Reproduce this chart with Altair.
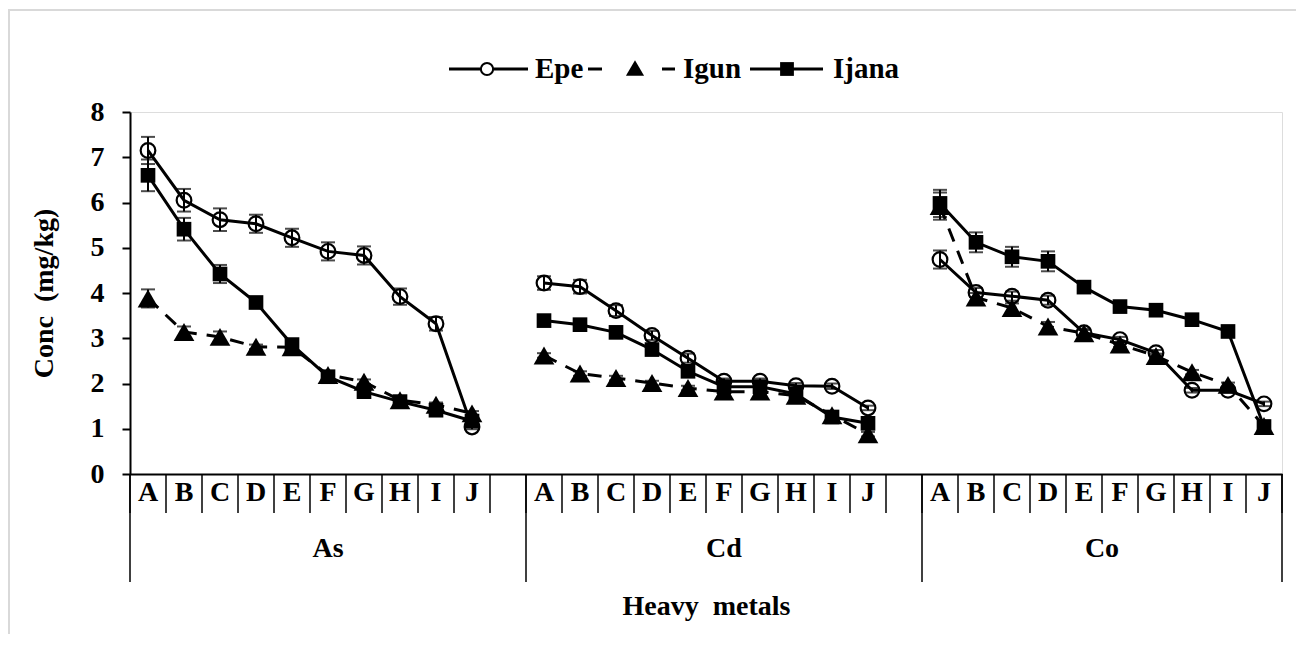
import altair as alt
import pandas as pd

FONT = "'Liberation Serif', 'Times New Roman', 'DejaVu Serif', serif"

groups = ["As", "Cd", "Co"]
sites = ["A", "B", "C", "D", "E", "F", "G", "H", "I", "J"]
series = ["Epe", "Igun", "Ijana"]

# values (mg/kg)
epe_as = [7.15, 6.05, 5.62, 5.53, 5.22, 4.92, 4.83, 3.92, 3.32, 1.04]
epe_cd = [4.22, 4.14, 3.61, 3.06, 2.56, 2.05, 2.05, 1.95, 1.94, 1.46]
epe_co = [4.74, 4.01, 3.93, 3.84, 3.12, 2.97, 2.68, 1.85, 1.85, 1.55]

igun_as = [3.88, 3.14, 3.03, 2.81, 2.80, 2.19, 2.04, 1.63, 1.53, 1.34]
igun_cd = [2.62, 2.22, 2.12, 2.01, 1.90, 1.82, 1.82, 1.73, 1.30, 0.88]
igun_co = [5.92, 3.90, 3.67, 3.26, 3.11, 2.86, 2.61, 2.25, 1.97, 1.06]

ijana_as = [6.60, 5.41, 4.42, 3.79, 2.86, 2.15, 1.82, 1.60, 1.41, 1.17]
ijana_cd = [3.39, 3.30, 3.13, 2.75, 2.27, 1.93, 1.93, 1.77, 1.26, 1.12]
ijana_co = [5.98, 5.12, 4.80, 4.70, 4.13, 3.70, 3.62, 3.41, 3.15, 1.05]

# error bar half-widths
epe_as_err = [0.30, 0.25, 0.25, 0.20, 0.20, 0.20, 0.20, 0.18, 0.15, 0.05]
epe_cd_err = [0.15, 0.15, 0.12, 0.10, 0.10, 0.06, 0.06, 0.06, 0.06, 0.05]
epe_co_err = [0.20, 0.10, 0.10, 0.10, 0.06, 0.06, 0.06, 0.05, 0.05, 0.05]

igun_as_err = [0.20, 0.12, 0.12, 0.05, 0.05, 0.08, 0.05, 0.05, 0.05, 0.05]
igun_cd_err = [0.05, 0.05, 0.05, 0.05, 0.05, 0.05, 0.05, 0.05, 0.05, 0.05]
igun_co_err = [0.30, 0.10, 0.10, 0.10, 0.10, 0.05, 0.05, 0.05, 0.05, 0.05]

ijana_as_err = [0.35, 0.25, 0.20, 0.08, 0.10, 0.05, 0.05, 0.05, 0.05, 0.05]
ijana_cd_err = [0.10, 0.10, 0.10, 0.08, 0.06, 0.05, 0.05, 0.05, 0.05, 0.05]
ijana_co_err = [0.30, 0.22, 0.22, 0.22, 0.12, 0.05, 0.05, 0.05, 0.05, 0.05]

values = {
    "Epe": [epe_as, epe_cd, epe_co],
    "Igun": [igun_as, igun_cd, igun_co],
    "Ijana": [ijana_as, ijana_cd, ijana_co],
}
errors = {
    "Epe": [epe_as_err, epe_cd_err, epe_co_err],
    "Igun": [igun_as_err, igun_cd_err, igun_co_err],
    "Ijana": [ijana_as_err, ijana_cd_err, ijana_co_err],
}

SLOTS_PER_GROUP = len(sites) + 1  # one blank slot between groups
N_SLOTS = len(groups) * SLOTS_PER_GROUP - 1

rows = []
for s in series:
    for gi, g in enumerate(groups):
        for k, site in enumerate(sites):
            v = values[s][gi][k]
            e = errors[s][gi][k]
            rows.append({"series": s, "group": g, "site": site,
                         "slot": gi * SLOTS_PER_GROUP + k + 0.5,
                         "value": v, "lo": v - e, "hi": v + e})
df = pd.DataFrame(rows)

cat_df = pd.DataFrame([{"slot": gi * SLOTS_PER_GROUP + k + 0.5, "site": site}
                       for gi in range(len(groups)) for k, site in enumerate(sites)])
bounds_df = pd.DataFrame({"b": list(range(N_SLOTS + 1))})
sep_df = pd.DataFrame({"b": [gi * SLOTS_PER_GROUP for gi in range(len(groups))] + [N_SLOTS]})
grp_df = pd.DataFrame({"group": groups,
                       "center": [(gi * SLOTS_PER_GROUP + min((gi + 1) * SLOTS_PER_GROUP, N_SLOTS)) / 2
                                  for gi in range(len(groups))]})

xscale = alt.Scale(domain=[0, N_SLOTS], nice=False, zero=False)
yscale = alt.Scale(domain=[0, 8], nice=False)

X = alt.X("slot:Q", scale=xscale,
          axis=alt.Axis(labels=False, ticks=False, grid=False, domain=True,
                        domainColor="black", domainWidth=2,
                        title="Heavy \u00a0metals", titleX=576, titleY=132,
                        titleAlign="center", titleBaseline="middle",
                        titleFont=FONT, titleFontSize=28, titleFontWeight="bold",
                        titleColor="black"))
Y = alt.Y("value:Q", scale=yscale,
          axis=alt.Axis(values=list(range(9)), grid=False, tickSize=8, tickWidth=2,
                        tickColor="black", domainColor="black", domainWidth=2,
                        labelFont=FONT, labelFontSize=28, labelFontWeight="bold",
                        labelColor="black", labelPadding=18,
                        title="Conc \u00a0(mg/kg)", titleX=-86, titleY=181,
                        titleAngle=270, titleAlign="center", titleBaseline="middle",
                        titleFont=FONT, titleFontSize=28, titleFontWeight="bold",
                        titleColor="black"))

base = alt.Chart(df)

lines_solid = base.transform_filter(alt.datum.series != "Igun").mark_line(
    color="black", strokeWidth=3).encode(x=X, y=Y, detail=["series:N", "group:N"])
lines_dash = base.transform_filter(alt.datum.series == "Igun").mark_line(
    color="black", strokeWidth=3, strokeDash=[14, 10]).encode(x=X, y=Y, detail="group:N")

err_rule = base.mark_rule(color="black", strokeWidth=2).encode(
    x="slot:Q", y="lo:Q", y2="hi:Q")
cap_lo = base.mark_tick(color="black", orient="horizontal", size=14, thickness=2).encode(
    x="slot:Q", y="lo:Q")
cap_hi = base.mark_tick(color="black", orient="horizontal", size=14, thickness=2).encode(
    x="slot:Q", y="hi:Q")

pts_epe = base.transform_filter(alt.datum.series == "Epe").mark_point(
    shape="circle", filled=False, size=216, color="black", strokeWidth=2.2, opacity=1
).encode(x="slot:Q", y="value:Q")
pts_igun = base.transform_filter(alt.datum.series == "Igun").mark_point(
    shape="triangle-up", filled=True, size=430, color="black", opacity=1
).encode(x="slot:Q", y="value:Q")
pts_ijana = base.transform_filter(alt.datum.series == "Ijana").mark_point(
    shape="square", filled=True, size=215, color="black", opacity=1
).encode(x="slot:Q", y="value:Q")

# multi-level category axis
ticks = alt.Chart(bounds_df).mark_rule(color="black", strokeWidth=1.5).encode(
    x="b:Q", y=alt.value(362), y2=alt.value(401))
seps = alt.Chart(sep_df).mark_rule(color="black", strokeWidth=1.5).encode(
    x="b:Q", y=alt.value(362), y2=alt.value(470))
cat_text = alt.Chart(cat_df).mark_text(
    font=FONT, fontSize=28, fontWeight="bold", color="black", baseline="middle", align="center"
).encode(x="slot:Q", y=alt.value(381), text="site:N")
grp_text = alt.Chart(grp_df).mark_text(
    font=FONT, fontSize=28, fontWeight="bold", color="black", baseline="middle", align="center"
).encode(x="center:Q", y=alt.value(437), text="group:N")

# legend (drawn manually to get line+marker symbols)
one = pd.DataFrame({"k": [0]})
LY = -43
def seg(x1, x2, dash=None):
    kw = dict(color="black", strokeWidth=3)
    if dash:
        kw["strokeDash"] = dash
    return alt.Chart(one).mark_rule(**kw).encode(
        x=alt.value(x1), x2=alt.value(x2), y=alt.value(LY))
def label(x, txt):
    return alt.Chart(one).mark_text(
        text=txt, font=FONT, fontSize=29, fontWeight="bold", color="black",
        align="left", baseline="middle").encode(x=alt.value(x), y=alt.value(LY))

leg = [
    seg(319, 398),
    alt.Chart(one).mark_point(shape="circle", filled=False, size=150, color="black",
                              strokeWidth=2, fill="white", opacity=1).encode(
        x=alt.value(357), y=alt.value(LY)),
    label(405, series[0]),
    seg(458, 472),
    seg(532, 545),
    alt.Chart(one).mark_point(shape="triangle-up", filled=True, size=330, color="black",
                              opacity=1).encode(x=alt.value(505), y=alt.value(LY - 1)),
    label(553, series[1]),
    seg(620, 693),
    alt.Chart(one).mark_point(shape="square", filled=True, size=190, color="black",
                              opacity=1).encode(x=alt.value(657), y=alt.value(LY)),
    label(703, series[2]),
]

border = alt.Chart(one).mark_rect(fill=None, stroke="#d9d9d9", strokeWidth=2).encode(
    x=alt.value(-121), x2=alt.value(1300), y=alt.value(-102), y2=alt.value(700))

chart = alt.layer(
    border, lines_solid, lines_dash, err_rule, cap_lo, cap_hi,
    pts_epe, pts_igun, pts_ijana, ticks, seps, cat_text, grp_text, *leg
).properties(
    width=1152, height=362,
    padding={"left": 122, "top": 104, "right": 14, "bottom": 160},
    autosize=alt.AutoSizeParams(type="none"),
).configure_view(stroke=None).configure(background="white", font=FONT)

chart.save("out.html", embed_options={"renderer": "svg", "actions": False})
